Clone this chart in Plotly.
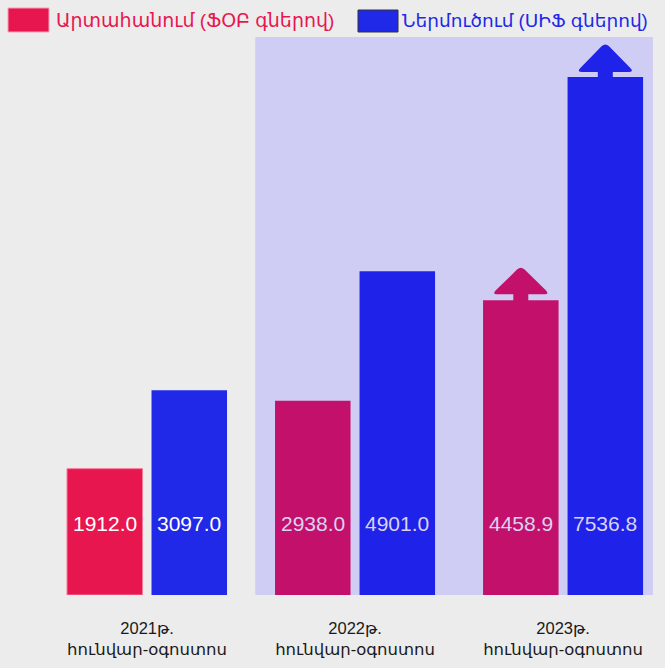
import plotly.graph_objects as go

# ---------------- data ----------------
categories = ["2021թ.<br>հունվար-օգոստոս",
              "2022թ.<br>հունվար-օգոստոս",
              "2023թ.<br>հունվար-օգոստոս"]
export_name = "Արտահանում (ՖՕԲ գներով)"
import_name = "Ներմուծում (ՍԻՖ գներով)"
export_values = [1912.0, 2938.0, 4458.9]
import_values = [3097.0, 4901.0, 7536.8]

# ---------------- style ----------------
W, H = 665, 668
L, R, T, B = 43, 0, 37, 73
PW, PH = W - L - R, H - T - B
BARGAP = 0.1875
GROUPGAP = 0.1065
X_RANGE = [-0.5, 2.49]
Y_MAX = 8444
FONT = "Arial, 'Liberation Sans', 'DejaVu Sans', sans-serif"

export_colors = ["#E8164F", "#C3116B", "#C3116B"]
import_colors = ["#2129E8", "#1F22E8", "#1F22E8"]
label_colors = ["#FFFFFF", "#DAD2F2", "#DAD2F2"]
RED_TXT = "#E8164F"
BLUE_TXT = "#2129E8"
PAPER_BG = "#ECECEC"
SHADE = "#D0CDF4"

xs = list(range(len(categories)))
slot = (1 - BARGAP) / 2
offset = slot / 2
half_w = slot * (1 - GROUPGAP) / 2

fig = go.Figure()
fig.add_trace(go.Bar(x=xs, y=export_values, name=export_name,
                     marker=dict(color=export_colors,
                                 line=dict(width=[1, 0, 0], color="#F57A98"))))
fig.add_trace(go.Bar(x=xs, y=import_values, name=import_name,
                     marker=dict(color=import_colors, line=dict(width=0))))

shapes = []
# highlighted region (2022-2023)
shapes.append(dict(type="rect", xref="x", yref="paper", x0=0.52, x1=2.432, y0=0, y1=1,
                   fillcolor=SHADE, line=dict(width=0), layer="below"))


def arrow_path(b, s, h):
    t = b + s
    return (f"M -7.5,{b-1} L -7.5,{t} L -23,{t} Q -29,{t} -25,{t+4} "
            f"L -3.5,{t+h-2} Q 0,{t+h+1} 3.5,{t+h-2} L 25,{t+4} "
            f"Q 29,{t} 23,{t} L 7.5,{t} L 7.5,{b-1} Z")


last = len(xs) - 1
# arrow on last export bar
shapes.append(dict(type="path", xref="x", yref="y",
                   xsizemode="pixel", ysizemode="pixel",
                   xanchor=xs[last] - offset, yanchor=export_values[last],
                   path=arrow_path(0, 6, 27),
                   fillcolor=export_colors[last], line=dict(width=0)))
# cap + arrow on last import bar
shapes.append(dict(type="rect", xref="x", yref="y", ysizemode="pixel",
                   x0=xs[last] + offset - half_w, x1=xs[last] + offset + half_w,
                   yanchor=import_values[last], y0=0, y1=20,
                   fillcolor=import_colors[last], line=dict(width=0)))
shapes.append(dict(type="path", xref="x", yref="y",
                   xsizemode="pixel", ysizemode="pixel",
                   xanchor=xs[last] + offset, yanchor=import_values[last],
                   path=arrow_path(20, 5, 28),
                   fillcolor=import_colors[last], line=dict(width=0)))


def px(x):
    return (x - L) / PW


def py(y):
    return (T + PH - y) / PH


# manual legend
shapes.append(dict(type="rect", xref="paper", yref="paper",
                   x0=px(8), x1=px(49), y0=py(32), y1=py(8),
                   fillcolor=export_colors[0], line=dict(width=1, color="#F7A0B5")))
shapes.append(dict(type="rect", xref="paper", yref="paper",
                   x0=px(358), x1=px(398), y0=py(32), y1=py(10),
                   fillcolor=import_colors[0], line=dict(width=1, color="#333333")))

annotations = [
    dict(xref="paper", yref="paper", x=px(54), y=py(20), xanchor="left", yanchor="middle",
         text=export_name, showarrow=False, font=dict(size=19, color=RED_TXT, family=FONT)),
    dict(xref="paper", yref="paper", x=px(400), y=py(20), xanchor="left", yanchor="middle",
         text=import_name, showarrow=False, font=dict(size=18.5, color=BLUE_TXT, family=FONT)),
]

# value labels near bar bottoms
for i in xs:
    for vals, sign in ((export_values, -1), (import_values, 1)):
        annotations.append(dict(xref="x", yref="y", x=xs[i] + sign * offset, y=0,
                                yshift=72, showarrow=False, text=f"{vals[i]:.1f}",
                                font=dict(size=21, color=label_colors[i], family=FONT)))

fig.update_layout(
    width=W, height=H,
    margin=dict(l=L, r=R, t=T, b=B, pad=0),
    paper_bgcolor=PAPER_BG, plot_bgcolor="rgba(0,0,0,0)",
    barmode="group", bargap=BARGAP, bargroupgap=GROUPGAP,
    showlegend=False,
    shapes=shapes, annotations=annotations,
    font=dict(family=FONT, color="#1A1A1A"),
    xaxis=dict(range=X_RANGE, tickvals=xs, ticktext=categories, showgrid=False,
               zeroline=False, showline=False, ticks="", tickfont=dict(size=16.5, color="#1A1A1A"),
               ticklabelstandoff=21),
    yaxis=dict(range=[0, Y_MAX], showgrid=False, zeroline=False, showline=False,
               showticklabels=False, ticks=""),
)

fig.write_html("out.html", config={"displayModeBar": False},
               post_script="document.body.style.margin='0';")
